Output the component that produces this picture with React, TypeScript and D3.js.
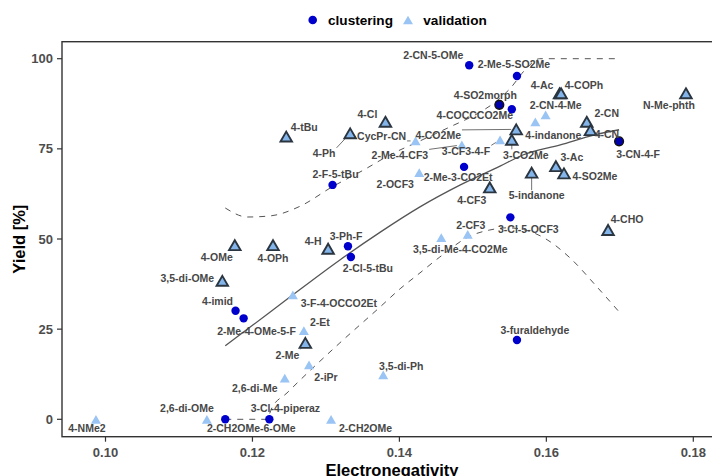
import React, { useMemo } from 'react';
import * as d3 from 'd3';

// ---- data ----
const names = [
  '2-CN-5-OMe', '2-Me-5-SO2Me', '4-SO2morph', '4-COCCCO2Me', '4-Ac', '4-COPh', 'N-Me-phth',
  '2-CN-4-Me', '4-indanone', '4-CO2Me', 'CycPr-CN', '2-Me-4-CF3', '3-CF3-4-F', '3-CO2Me',
  '2-OCF3', '2-Me-3-CO2Et', '4-CF3', '5-indanone', '3-Ac', '4-SO2Me', '2-CN', '4-CN',
  '3-CN-4-F', '4-CHO', '3-Cl-5-OCF3', '2-CF3', '3,5-di-Me-4-CO2Me', '4-tBu', '4-Ph', '4-Cl',
  '2-F-5-tBu', '4-OMe', '4-OPh', '4-H', '3-Ph-F', '2-Cl-5-tBu', '3,5-di-OMe', '4-imid',
  '2-Me-4-OMe-5-F', '3-F-4-OCCO2Et', '2-Et', '2-Me', '2-iPr', '2,6-di-Me', '3,5-di-Ph',
  '3-Cl-4-piperaz', '2-CH2OMe-6-OMe', '2,6-di-OMe', '4-NMe2', '2-CH2OMe', '3-furaldehyde',
];
const electronegativity = [
  0.1495, 0.1560, 0.1536, 0.1553, 0.1618, 0.1620, 0.1790,
  0.1599, 0.1585, 0.1559, 0.1422, 0.1485, 0.1537, 0.1553,
  0.1427, 0.1488, 0.1523, 0.1580, 0.1613, 0.1624, 0.1655, 0.1660,
  0.1699, 0.1684, 0.1551, 0.1493, 0.1457, 0.1246, 0.1333, 0.1381,
  0.1309, 0.1176, 0.1228, 0.1303, 0.1330, 0.1334, 0.1159, 0.1177,
  0.1188, 0.1255, 0.1270, 0.1272, 0.1277, 0.1244, 0.1378,
  0.1223, 0.1163, 0.1138, 0.0987, 0.1307, 0.1560,
];
const yieldPct = [
  98.2, 95.2, 87.2, 86.0, 90.4, 90.4, 90.4,
  84.4, 82.5, 80.4, 77.2, 76.1, 77.5, 77.5,
  68.4, 70.0, 64.3, 68.4, 70.2, 68.2, 82.5, 80.2,
  77.1, 52.5, 56.0, 51.3, 50.4, 78.4, 79.3, 82.5,
  65.0, 48.3, 48.3, 47.3, 48.0, 45.0, 38.4, 30.1,
  28.0, 34.5, 24.6, 21.2, 15.1, 11.4, 12.3,
  0, 0, 0, 0, 0, 22.0,
];
const group = [
  'clustering', 'clustering', 'clustering', 'clustering', 'validation', 'validation', 'validation',
  'validation', 'validation', 'validation', 'validation', 'validation', 'validation', 'validation',
  'validation', 'clustering', 'validation', 'validation', 'validation', 'validation', 'validation', 'validation',
  'clustering', 'validation', 'clustering', 'validation', 'validation', 'validation', 'validation', 'validation',
  'clustering', 'validation', 'validation', 'validation', 'clustering', 'clustering', 'validation', 'clustering',
  'clustering', 'validation', 'validation', 'validation', 'validation', 'validation', 'validation',
  'clustering', 'clustering', 'validation', 'validation', 'validation', 'clustering',
];
const reference = [
  false, false, true, false, true, true, true,
  false, false, true, false, false, false, true,
  false, false, true, true, true, true, true, true,
  true, true, false, false, false, true, true, true,
  false, true, true, true, false, false, true, false,
  false, false, false, true, false, false, false,
  false, false, false, false, false, false,
];

// fitted curve and band
const fitX = [0.1163, 0.1201, 0.1251, 0.1319, 0.1374, 0.1428, 0.1483, 0.1537, 0.1568, 0.1619, 0.1666, 0.1699];
const fitY = [20.4, 26.2, 33.9, 44.2, 51.9, 58.9, 65.0, 70.2, 73.3, 76.1, 78.9, 80.3];
const upperX = [0.1163, 0.1193, 0.1224, 0.1265, 0.1308, 0.1351, 0.1387, 0.1428, 0.1469, 0.1510, 0.1530, 0.1551, 0.1571, 0.1591, 0.1699];
const upperY = [58.6, 56.1, 56.4, 59.1, 64.4, 69.1, 73.3, 77.2, 81.1, 85.2, 87.9, 91.8, 96.9, 100, 100];
const lowerX = [0.1163, 0.1219, 0.1227, 0.1247, 0.1265, 0.1319, 0.1374, 0.1401, 0.1428, 0.1455, 0.1496, 0.1523, 0.1547, 0.1571, 0.1601, 0.1632, 0.1669, 0.1699];
const lowerY = [0, 0, 3.4, 7.3, 10.9, 21.2, 31.2, 36.2, 40.6, 45.0, 50.8, 52.5, 53.1, 52.5, 49.8, 44.8, 36.7, 29.8];

const xTicks = [0.10, 0.12, 0.14, 0.16, 0.18];
const yTicks = [0, 25, 50, 75, 100];
const legendItems = ['clustering', 'validation'];

// label placement (pixel offsets from point, layout only)
const labelDx = [
  -36, -3, -14, -37, -17.5, 23, -17,
  10, 18, -78, -34, -62, -34, 14,
  -24, -6, -18, 5, 16, 31, 20, 16.5,
  19, 19, 18, 3, 19, 18, -26, -18,
  3, -18, 0, -15, -2, 17, -35, -18,
  13, 46, 16, -18, 17, -30, 18,
  16, 26, -20, -9, 34.5, 18,
];
const labelDy = [
  -10, -12, -10, 6, -8, -8, 12,
  -10, 13, 6, -5, 10, 11, 15,
  12, 10, 13, 23, -9, 3, -9, 4,
  13, -11, 12, -9, 12, -9, 20, -8,
  -11, 12, 13, -8, -10, 11, -3, -10,
  13, 8, -8, 12, 12, 10, -9,
  -11, 9, -11, 9, 9, -10,
];

const FONT = "'Liberation Sans', Arial, Helvetica, sans-serif";
const W = 712;
const H = 476;
const panel = { left: 62, top: 41.7, bottom: 436.7 };
const CIRCLE = '#0000CC';
const TRI = '#99C4F4';
const TRI_REF = '#84B5EA';
const INK = '#333333';

function triPath(cx: number, cy: number, side: number) {
  const h = side * 0.866;
  return `M${cx},${cy - h / 2}L${cx + side / 2},${cy + h / 2}L${cx - side / 2},${cy + h / 2}Z`;
}

export default function App() {
  const x = d3.scaleLinear().domain([0.10, 0.18]).range([105.5, 693.3]);
  const y = d3.scaleLinear().domain([0, 100]).range([419.3, 58.7]);

  const labelFont = `bold 10.5px ${FONT}`;
  const widths = useMemo(() => {
    const c = document.createElement('canvas').getContext('2d');
    if (!c) return names.map((n) => n.length * 5.8);
    c.font = labelFont;
    return names.map((n) => c.measureText(n).width);
  }, []);

  const line = (xs: number[], ys: number[]) =>
    d3.line<number>()
      .x((_, i) => x(xs[i]))
      .y((_, i) => y(ys[i]))
      .curve(d3.curveMonotoneX)(xs) || '';

  const points = names.map((n, i) => ({
    name: n,
    px: x(electronegativity[i]),
    py: y(yieldPct[i]),
    g: group[i],
    ref: reference[i],
    lx: x(electronegativity[i]) + labelDx[i],
    ly: y(yieldPct[i]) + labelDy[i],
    w: widths[i],
  }));

  const segments = points.map((p) => {
    const hw = p.w / 2 + 1;
    const hh = 5.5;
    const nx = Math.max(p.lx - hw, Math.min(p.px, p.lx + hw));
    const ny = Math.max(p.ly - hh, Math.min(p.py, p.ly + hh));
    const dx = nx - p.px;
    const dy = ny - p.py;
    const d = Math.hypot(dx, dy);
    const pad = 5;
    if (d < pad + 3) return null;
    return { x1: p.px + (dx / d) * pad, y1: p.py + (dy / d) * pad, x2: nx, y2: ny };
  });

  return (
    <svg width={W} height={H} style={{ position: 'absolute', left: 0, top: 0, background: '#fff' }}>
      <rect x={0} y={0} width={W} height={H} fill="#fff" />
      {/* legend */}
      <g fontFamily={FONT} fontWeight="bold" fontSize={13.6}>
        {legendItems.map((it, i) => {
          const lx = i === 0 ? 312.7 : 408;
          return (
            <g key={it}>
              {it === 'clustering' ? (
                <circle cx={lx} cy={20} r={4.3} fill={CIRCLE} />
              ) : (
                <path d={triPath(lx, 20, 10)} fill={TRI} />
              )}
              <text x={lx + 15.3} y={24.8} fill="#000">{it}</text>
            </g>
          );
        })}
      </g>

      {/* fits */}
      <path d={line(upperX, upperY)} fill="none" stroke="#555" strokeWidth={1} strokeDasharray="6,6" />
      <path d={line(lowerX, lowerY)} fill="none" stroke="#555" strokeWidth={1} strokeDasharray="6,6" />
      <path d={line(fitX, fitY)} fill="none" stroke="#555" strokeWidth={1.3} />

      {/* segments */}
      {segments.map((s, i) =>
        s ? <line key={'s' + i} x1={s.x1} y1={s.y1} x2={s.x2} y2={s.y2} stroke="#333" strokeWidth={0.7} /> : null
      )}

      {/* points */}
      {points.map((p, i) => {
        if (p.g === 'clustering') {
          return p.ref ? (
            <circle key={'p' + i} cx={p.px} cy={p.py} r={4.4} fill="#0000AA" stroke="#111" strokeWidth={1.4} />
          ) : (
            <circle key={'p' + i} cx={p.px} cy={p.py} r={4.2} fill={CIRCLE} />
          );
        }
        return p.ref ? (
          <path key={'p' + i} d={triPath(p.px, p.py, 11.5)} fill={TRI_REF} stroke="#2A3540" strokeWidth={1.9} strokeLinejoin="miter" />
        ) : (
          <path key={'p' + i} d={triPath(p.px, p.py, 10)} fill={TRI} />
        );
      })}

      {/* labels */}
      <g fontFamily={FONT} fontWeight="bold" fontSize={10.5} fill="#474747" textAnchor="middle">
        {points.map((p, i) => (
          <text key={'l' + i} x={p.lx} y={p.ly + 3.8}>{p.name}</text>
        ))}
      </g>

      {/* panel border */}
      <rect x={panel.left} y={panel.top} width={W + 20 - panel.left} height={panel.bottom - panel.top}
        fill="none" stroke={INK} strokeWidth={1.4} />

      {/* axes ticks */}
      <g fontFamily={FONT} fontWeight="bold" fontSize={13} fill="#4D4D4D">
        {yTicks.map((t) => (
          <g key={'y' + t}>
            <line x1={panel.left - 5} x2={panel.left} y1={y(t)} y2={y(t)} stroke={INK} strokeWidth={1.2} />
            <text x={panel.left - 9} y={y(t) + 4.6} textAnchor="end">{t}</text>
          </g>
        ))}
        {xTicks.map((t) => (
          <g key={'x' + t}>
            <line x1={x(t)} x2={x(t)} y1={panel.bottom} y2={panel.bottom + 5} stroke={INK} strokeWidth={1.2} />
            <text x={x(t)} y={457} textAnchor="middle">{t.toFixed(2)}</text>
          </g>
        ))}
      </g>

      {/* axis titles */}
      <text x={392} y={475.5} textAnchor="middle" fontFamily={FONT} fontWeight="bold" fontSize={16.5} fill="#000">
        Electronegativity
      </text>
      <text transform={`translate(24.5,${(panel.top + panel.bottom) / 2}) rotate(-90)`} textAnchor="middle"
        fontFamily={FONT} fontWeight="bold" fontSize={16.5} fill="#000">
        Yield [%]
      </text>
    </svg>
  );
}
